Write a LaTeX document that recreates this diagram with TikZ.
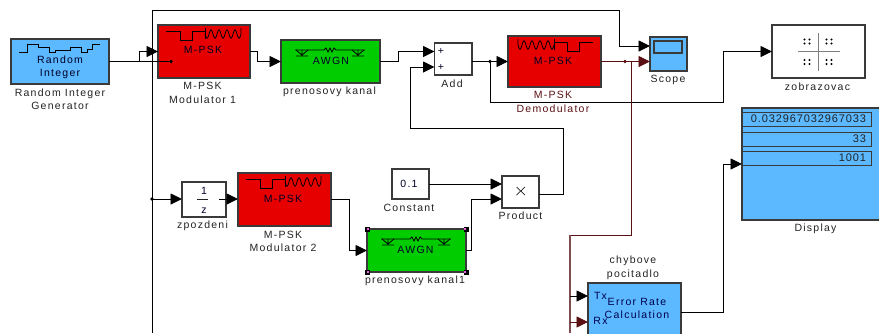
\documentclass[tikz,border=0pt]{standalone}
\usepackage{fontspec}
\setmainfont{Liberation Sans}
\newfontfamily\lblfont[LetterSpace=12]{Liberation Sans}
\newfontfamily\fieldfont[LetterSpace=8]{Liberation Sans}
\usetikzlibrary{arrows.meta}
\definecolor{bblue}{HTML}{5CB8FF}
\definecolor{bred}{HTML}{E60000}
\definecolor{bgreen}{HTML}{00CC00}
\definecolor{wred}{HTML}{5A1012}
\definecolor{wbrown}{HTML}{7C4E50}
\definecolor{edgec}{HTML}{3A3A3A}
\definecolor{txt}{HTML}{222222}
\definecolor{hpink}{HTML}{F060E0}
\tikzset{
  block/.style={draw=edgec,line width=1.1pt,anchor=north west,inner sep=0pt,outer sep=0pt},
  lbl/.style={inner sep=0pt,font=\lblfont\fontsize{10.5}{13.5}\selectfont,text=txt,align=center},
  inlbl/.style={lbl,text=black!85!blue},
  wire/.style={draw=black,line width=0.9pt,-{Triangle[length=11.5pt,width=11pt]}},
  plainw/.style={draw=black,line width=0.9pt},
  rwire/.style={draw=wred,line width=0.9pt,-{Triangle[length=11.5pt,width=11pt]}},
  rplain/.style={draw=wred,line width=0.9pt},
  bwire/.style={draw=wbrown,line width=1.3pt},
  icon/.style={draw=black,line width=0.8pt},
  field/.style={draw=edgec,line width=1pt,anchor=north west,minimum width=129pt,inner sep=0pt,outer sep=0pt,
    font=\fieldfont\fontsize{11}{11}\selectfont,text=txt,align=right,minimum height=14pt,text width=119pt},
}
\newcommand{\wavicon}{%
  \draw[icon] (8,6) -- (22,6) -- (22,15) -- (34,15) -- (34,6) -- (47,6);
  \draw[icon] (47,3) -- (47,14);
  \draw[icon] plot[domain=47:83,samples=70,smooth] (\x,{9+4.2*sin(45*(\x-47))}) -- (83,3);
}
\newcommand{\awgnicon}{%
  \draw[icon] (14,10) -- (43,10) -- (45,8) -- (47,12) -- (49,8) -- (51,12) -- (53,8) -- (55,10) -- (84,10);
  \draw[icon] (15,10) -- (21,15) (21,10) -- (21,15) (15,16) -- (27,16) (27,10) -- (21,15);
  \draw[icon] (83,10) -- (77,15) (77,10) -- (77,15) (71,16) -- (83,16) (71,10) -- (77,15);
}
\newcommand{\handle}[3]{%
  \fill[black] (#1-2.5,#2-2.5) rectangle (#1+2.5,#2+2.5);
  \fill[hpink] (#1-1.2+#3,#2-1.2) rectangle (#1+1.2+#3,#2+1.2);
}
\begin{document}
\begin{tikzpicture}[x=1pt,y=-1pt]
\useasboundingbox (0,0) rectangle (879,333);
\clip (0,0) rectangle (879,333);
% blocks
\node[block,fill=bblue,minimum width=98pt,minimum height=45pt] (rand) at (11,39) {};
\node[block,fill=bred,minimum width=92pt,minimum height=53pt] (mod1) at (158,25) {};
\node[block,fill=bgreen,minimum width=99pt,minimum height=43pt] (awgn1) at (281,40) {};
\node[block,fill=white,minimum width=37.5pt,minimum height=32pt] (add) at (434.5,43) {};
\node[block,fill=bred,minimum width=93pt,minimum height=51pt] (demod) at (508,36) {};
\node[block,fill=bblue,minimum width=37pt,minimum height=34pt] (scope) at (650,37) {};
\node[block,fill=bblue,minimum width=28pt,minimum height=12pt] (scopescreen) at (654,41) {};
\node[block,fill=white,minimum width=93pt,minimum height=53pt] (zob) at (772,25) {};
\node[block,fill=bblue,minimum width=140pt,minimum height=112pt] (disp) at (742,108) {};
\node[field] (f1) at (742,112) {0.032967032967033};
\node[field] (f2) at (742,132) {33};
\node[field] (f3) at (742,151) {1001};
\node[block,fill=white,minimum width=44pt,minimum height=35pt] (zpoz) at (182,182) {};
\node[block,fill=bred,minimum width=93pt,minimum height=53pt] (mod2) at (238,173) {};
\node[block,fill=white,minimum width=37pt,minimum height=30pt] (const) at (392,169) {};
\node[block,fill=white,minimum width=37pt,minimum height=32pt] (prod) at (502,176) {};
\node[block,fill=bgreen,minimum width=99pt,minimum height=43pt] (awgn2) at (367,229) {};
\node[block,fill=bblue,minimum width=93pt,minimum height=60pt] (err) at (588,283) {};
% icons
\begin{scope}[shift={(158,25)}]\wavicon\end{scope}
\begin{scope}[shift={(238,173)}]\wavicon\end{scope}
\begin{scope}[shift={(601,36)},xscale=-1]\wavicon\end{scope}
\begin{scope}[shift={(281,40)}]\awgnicon\end{scope}
\begin{scope}[shift={(367,229)}]\awgnicon\end{scope}
\draw[icon] (19,52) -- (27,52) -- (27,44.5) -- (38,44.5) -- (38,47.5) -- (49,47.5) -- (49,52) -- (55,52) -- (55,50) -- (70,50) -- (70,47.5) -- (81,47.5) -- (81,52) -- (87,52) -- (87,49) -- (92,49) -- (92,44.5) -- (100,44.5);
\draw[gray,line width=0.8pt] (798,51) -- (840,51) (818,33) -- (818,71);
\foreach \cx/\cy in {807/41.5,829/41.5,807/62,829/62}{
  \foreach \dx in {-2.5,2.5}{\foreach \dy in {-2,2}{
    \fill[black] (\cx+\dx,\cy+\dy) circle (1.05);
  }}
}
\draw[line width=0.7pt,draw=txt] (516.5,187) -- (525,195) (525,187) -- (516.5,195);
\draw[line width=0.7pt,draw=txt] (197,199) -- (208,199);
\handle{367}{229}{1}\handle{466}{229}{-1}\handle{367}{272}{1}\handle{466}{272}{-1}
% junctions and waypoints
\coordinate (j1) at (171,61.5);
\coordinate (j2) at (490,61.5);
\coordinate (j3) at (625,61.5);
\coordinate (j4) at (152,199);
\coordinate (frameb) at (152,333);
\coordinate (addin1) at (434.5,51.5);
\coordinate (addin2) at (434.5,67);
\coordinate (addout) at (472,61.5);
\coordinate (scopein1) at (650,46);
\coordinate (scopein2) at (650,61.5);
\coordinate (prodin1) at (502,184);
\coordinate (prodin2) at (502,199);
\coordinate (prodout) at (539,194);
\coordinate (constout) at (429,184);
\coordinate (errtx) at (588,296);
\coordinate (errrx) at (588,322);
\coordinate (errout) at (681,312);
\coordinate (dispin) at (742,164);
\coordinate (busb) at (570,333);
\coordinate (zobin) at (772,51.5);
\coordinate (zpozin) at (182,199);
\coordinate (mod2in) at (238,199);
\coordinate (zpozout) at (219,199);
% connectors
\path[wire] (rand.east) -- (139.5,61.5) -- (139.5,51.5) -- (mod1.west);
\path[plainw] (rand.east) -- (j1);
\path[wire] (mod1.east) -- (257,51.5) -- (257,61.5) -- (awgn1.west);
\path[wire] (awgn1.east) -- (398,61.5) -- (398,51.5) -- (addin1);
\path[wire] (addout) -- (demod.west);
\path[wire] (prodout) -- (563.5,194) -- (563.5,128) -- (410,128) -- (410,67) -- (addin2);
\path[wire] (frameb) -- (152,10) -- (619,10) -- (619,46) -- (scopein1);
\path[rwire] (demod.east) -- (scopein2);
\path[wire] (j2) -- (490,102) -- (723,102) -- (723,51.5) -- (zobin);
\path[wire] (j4) -- (zpozin);
\path[wire] (zpozout) -- (mod2in);
\path[wire] (mod2.east) -- (349,199.5) -- (349,250.5) -- (awgn2.west);
\path[wire] (awgn2.east) -- (471.5,250.5) -- (471.5,199) -- (prodin2);
\path[wire] (constout) -- (prodin1);
\path[wire] (errout) -- (723,312) -- (723,164) -- (dispin);
\path[rplain] (j3) -- (631,61.5) -- (631,235) -- (570,235);
\path[bwire] (570,235) -- (busb);
\path[wire] (570,296) -- (errtx);
\path[rwire] (570,322) -- (errrx);
\fill[black] (j1) circle (1.9);
\fill[black] (j2) circle (1.9);
\fill[wred] (j3) circle (1.9);
\fill[black] (j4) circle (1.9);
% block texts
\node[inlbl] (t1) at (60,67.5) {Random\\Integer};
\node[inlbl] (t2) at (203,50) {M-PSK};
\node[inlbl] (t3) at (283,199) {M-PSK};
\node[inlbl] (t4) at (553,61) {M-PSK};
\node[inlbl] (t5) at (331,61) {AWGN};
\node[inlbl] (t6) at (415.5,250) {AWGN};
\node[inlbl] (t7) at (441,51.5) {+};
\node[inlbl] (t8) at (441,67) {+};
\node[inlbl] (t9) at (409,184) {0.1};
\node[inlbl] (t10) at (204,191) {1};
\node[inlbl] (t11) at (204,210.5) {z};
\node[lbl,text=black!70!blue] (t12) at (600.5,296) {Tx};
\node[lbl,text=black!70!blue] (t13) at (600.5,321) {Rx};
\node[lbl,text=black!70!blue] (t14) at (637,308.5) {Error Rate\\Calculation};
% outer labels
\node[lbl] (l1) at (60,99) {Random Integer\\Generator};
\node[lbl] (l2) at (202.5,93) {M-PSK\\Modulator 1};
\node[lbl] (l3) at (329.5,92) {prenosovy kanal};
\node[lbl] (l4) at (452,83.5) {Add};
\node[lbl,text=wred] (l5) at (553,102) {M-PSK\\Demodulator};
\node[lbl] (l6) at (668,79.5) {Scope};
\node[lbl] (l7) at (817.5,87) {zobrazovac};
\node[lbl] (l8) at (815.5,229) {Display};
\node[lbl] (l9) at (202.5,225.5) {zpozdeni};
\node[lbl] (l10) at (283,241.5) {M-PSK\\Modulator 2};
\node[lbl] (l11) at (415,281) {prenosovy kanal1};
\node[lbl] (l12) at (409,208) {Constant};
\node[lbl] (l13) at (520.5,216) {Product};
\node[lbl] (l14) at (633,268) {chybove\\pocitadlo};
\end{tikzpicture}
\end{document}
